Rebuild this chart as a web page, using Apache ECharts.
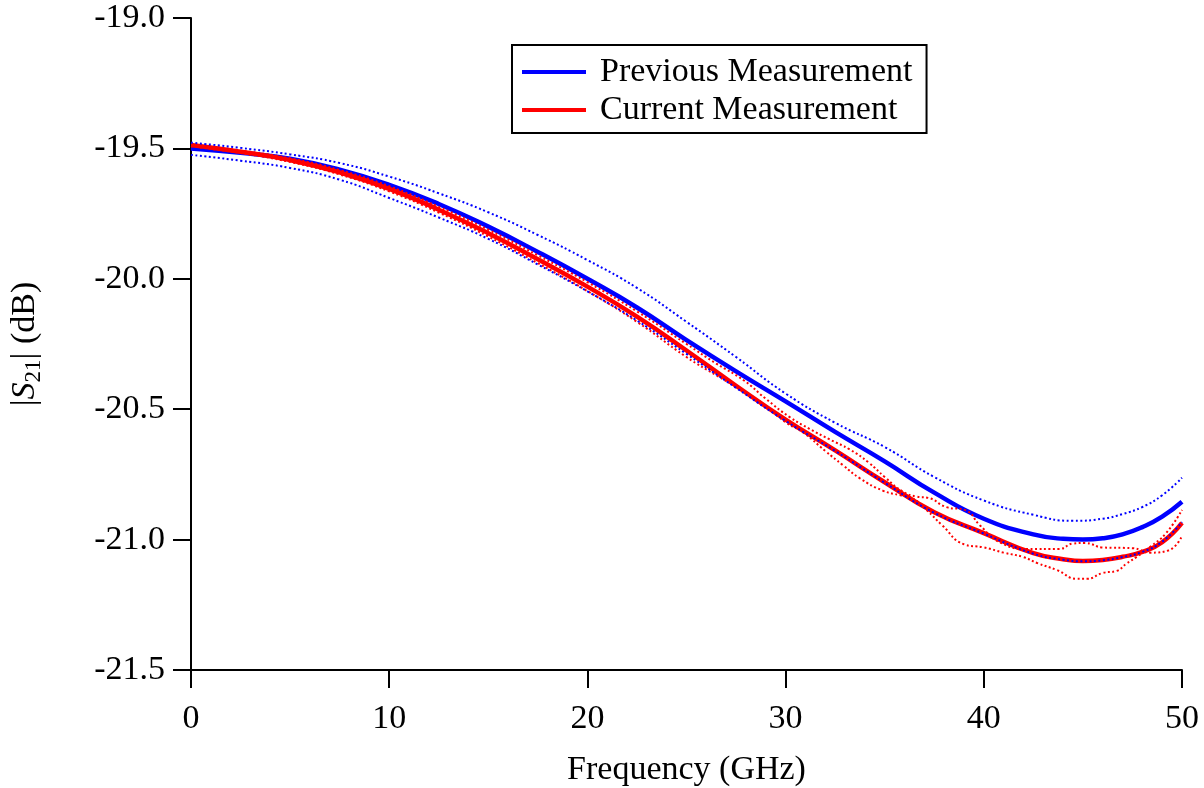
<!DOCTYPE html>
<html>
<head>
<meta charset="utf-8">
<script src="https://cdn.jsdelivr.net/npm/echarts@6/dist/echarts.min.js"></script>
<style>
  html, body { margin: 0; padding: 0; background: #fff; }
  #chart { width: 1204px; height: 788px; }
</style>
</head>
<body>
<div id="chart"></div>
<script>
// Frequency grid (GHz) for the averaged traces and their envelopes
const freqMain = [0, 2.5, 5, 7.5, 10, 12.5, 15, 17.5, 20, 22.5, 25, 27.5, 30, 32.5, 35, 37.5, 40, 42.5, 44, 45, 46, 47, 48, 49, 50];

// Previous measurement: mean |S21| (dB)
const prevMean = [-19.50, -19.517, -19.54, -19.582, -19.64, -19.713, -19.80, -19.897, -20.00, -20.11, -20.235, -20.355, -20.47, -20.587, -20.70, -20.82, -20.92, -20.98, -20.997, -21.00, -20.995, -20.98, -20.952, -20.912, -20.855];

// Previous measurement: upper and lower envelopes (dB)
const prevUpperFreq = [0, 2.5, 5, 7.5, 10, 12.5, 15, 17.5, 20, 22.5, 25, 27.5, 30, 32.5, 35, 37.5, 40, 42.5, 44.5, 46, 47, 48, 49, 50];
const prevUpper = [-19.478, -19.498, -19.523, -19.556, -19.608, -19.672, -19.745, -19.832, -19.928, -20.035, -20.165, -20.30, -20.44, -20.552, -20.645, -20.76, -20.85, -20.905, -20.928, -20.92, -20.902, -20.875, -20.83, -20.763];
const prevLower = [-19.525, -19.547, -19.575, -19.62, -19.69, -19.765, -19.847, -19.945, -20.048, -20.16, -20.288, -20.418, -20.545, -20.66, -20.782, -20.897, -20.977, -21.054, -21.077, -21.083, -21.079, -21.067, -21.047, -21.008, -20.933];

// Current measurement: mean |S21| (dB)
const currMean = [-19.487, -19.513, -19.545, -19.592, -19.655, -19.735, -19.825, -19.925, -20.03, -20.145, -20.275, -20.41, -20.54, -20.658, -20.78, -20.895, -20.975, -21.052, -21.075, -21.082, -21.078, -21.066, -21.047, -21.01, -20.936];

// Current measurement: the two individual sweeps
const currAFreq = [0, 2.5, 5, 7.5, 10, 12.5, 15, 17.5, 20, 22.5, 25, 26.5, 27.9, 29, 30.2, 31.2, 32.2, 33.25, 34.2, 35, 35.9, 36.6, 37.2, 38.1, 39.1, 39.8, 40.8, 42.2, 43.8, 44.5, 45.1, 46, 47.5, 48.4, 49.3, 50];
const currA = [-19.482, -19.508, -19.538, -19.583, -19.645, -19.724, -19.812, -19.91, -20.013, -20.125, -20.25, -20.325, -20.39, -20.46, -20.53, -20.575, -20.615, -20.655, -20.705, -20.76, -20.815, -20.835, -20.84, -20.875, -20.888, -20.945, -21.01, -21.036, -21.036, -21.015, -21.013, -21.03, -21.033, -21.05, -21.042, -20.986];
const currBFreq = [0, 2.5, 5, 7.5, 10, 12.5, 15, 17.5, 20, 22.5, 25, 26.5, 28.6, 30, 30.9, 32, 32.9, 33.75, 34.9, 35.8, 36.3, 37.1, 37.9, 39, 40, 41, 42, 42.7, 43.7, 44.7, 45.2, 46, 46.7, 47.2, 47.7, 48.4, 49.2, 50];
const currB = [-19.492, -19.518, -19.552, -19.6, -19.665, -19.746, -19.838, -19.94, -20.047, -20.165, -20.3, -20.37, -20.465, -20.55, -20.59, -20.66, -20.715, -20.765, -20.812, -20.83, -20.838, -20.886, -20.945, -21.018, -21.03, -21.05, -21.067, -21.09, -21.117, -21.15, -21.15, -21.128, -21.12, -21.092, -21.067, -21.028, -20.975, -20.886];

// Axis ranges
const xTicks = [0, 10, 20, 30, 40, 50];
const yTicks = [-21.5, -21.0, -20.5, -20.0, -19.5, -19.0];

const BLUE = '#0000ff';
const RED = '#ff0000';
const FONT = '"Liberation Serif", "Times New Roman", serif';
const FS = 34;

function pairs(xs, ys) {
  return xs.map((x, i) => [x, ys[i]]);
}

function solid(name, color, xs, ys) {
  return {
    name, type: 'line', data: pairs(xs, ys), smooth: true,
    symbol: 'none', lineStyle: { color, width: 4.5 }, itemStyle: { color },
    silent: true
  };
}

function dotted(name, color, xs, ys) {
  return {
    name, type: 'line', data: pairs(xs, ys), smooth: true,
    symbol: 'none', lineStyle: { color, width: 2, type: [2, 2.5] }, itemStyle: { color },
    silent: true
  };
}

const chart = echarts.init(document.getElementById('chart'), null, { renderer: 'canvas' });

chart.setOption({
  backgroundColor: '#fff',
  animation: false,
  grid: { left: 191, right: 22, top: 18, bottom: 118, containLabel: false, outerBoundsMode: 'none' },
  legend: {
    data: [
      { name: 'Previous Measurement', icon: 'rect' },
      { name: 'Current Measurement', icon: 'rect' }
    ],
    orient: 'vertical',
    left: 512, top: 45,
    padding: [10, 14, 6, 10],
    borderColor: '#000', borderWidth: 2,
    itemWidth: 64, itemHeight: 4, itemGap: 4,
    textStyle: { fontFamily: FONT, fontSize: FS, color: '#000', lineHeight: 34, padding: [0, 0, 0, 9] },
    selectedMode: false
  },
  xAxis: {
    type: 'value',
    min: xTicks[0], max: xTicks[xTicks.length - 1], interval: 10,
    name: 'Frequency (GHz)', nameLocation: 'middle', nameGap: 83,
    nameTextStyle: { fontFamily: FONT, fontSize: FS, color: '#000' },
    axisLine: { show: true, onZero: false, lineStyle: { color: '#000', width: 2 } },
    axisTick: { show: true, inside: false, length: 18, lineStyle: { color: '#000', width: 2 } },
    axisLabel: { fontFamily: FONT, fontSize: FS, color: '#000', margin: 32 },
    splitLine: { show: false }
  },
  yAxis: {
    type: 'value',
    min: yTicks[0], max: yTicks[yTicks.length - 1], interval: 0.5,
    name: '|{s|S}{sub|21}| (dB)', nameLocation: 'middle', nameGap: 146, nameRotate: 90,
    nameTextStyle: {
      fontFamily: FONT, fontSize: FS, color: '#000', lineHeight: 40,
      rich: {
        s: { fontFamily: FONT, fontSize: FS, fontStyle: 'italic', color: '#000', lineHeight: 40 },
        sub: { fontFamily: FONT, fontSize: 23, color: '#000', verticalAlign: 'bottom', lineHeight: 23 }
      }
    },
    axisLine: { show: true, onZero: false, lineStyle: { color: '#000', width: 2 } },
    axisTick: { show: true, inside: false, length: 18, lineStyle: { color: '#000', width: 2 } },
    axisLabel: { fontFamily: FONT, fontSize: FS, color: '#000', margin: 26, formatter: v => v.toFixed(1) },
    splitLine: { show: false }
  },
  series: [
    solid('Previous Measurement', BLUE, freqMain, prevMean),
    solid('Current Measurement', RED, freqMain, currMean),
    dotted('Current Sweep A', RED, currAFreq, currA),
    dotted('Current Sweep B', RED, currBFreq, currB),
    dotted('Previous Upper', BLUE, prevUpperFreq, prevUpper),
    dotted('Previous Lower', BLUE, freqMain, prevLower)
  ]
});
</script>
</body>
</html>
